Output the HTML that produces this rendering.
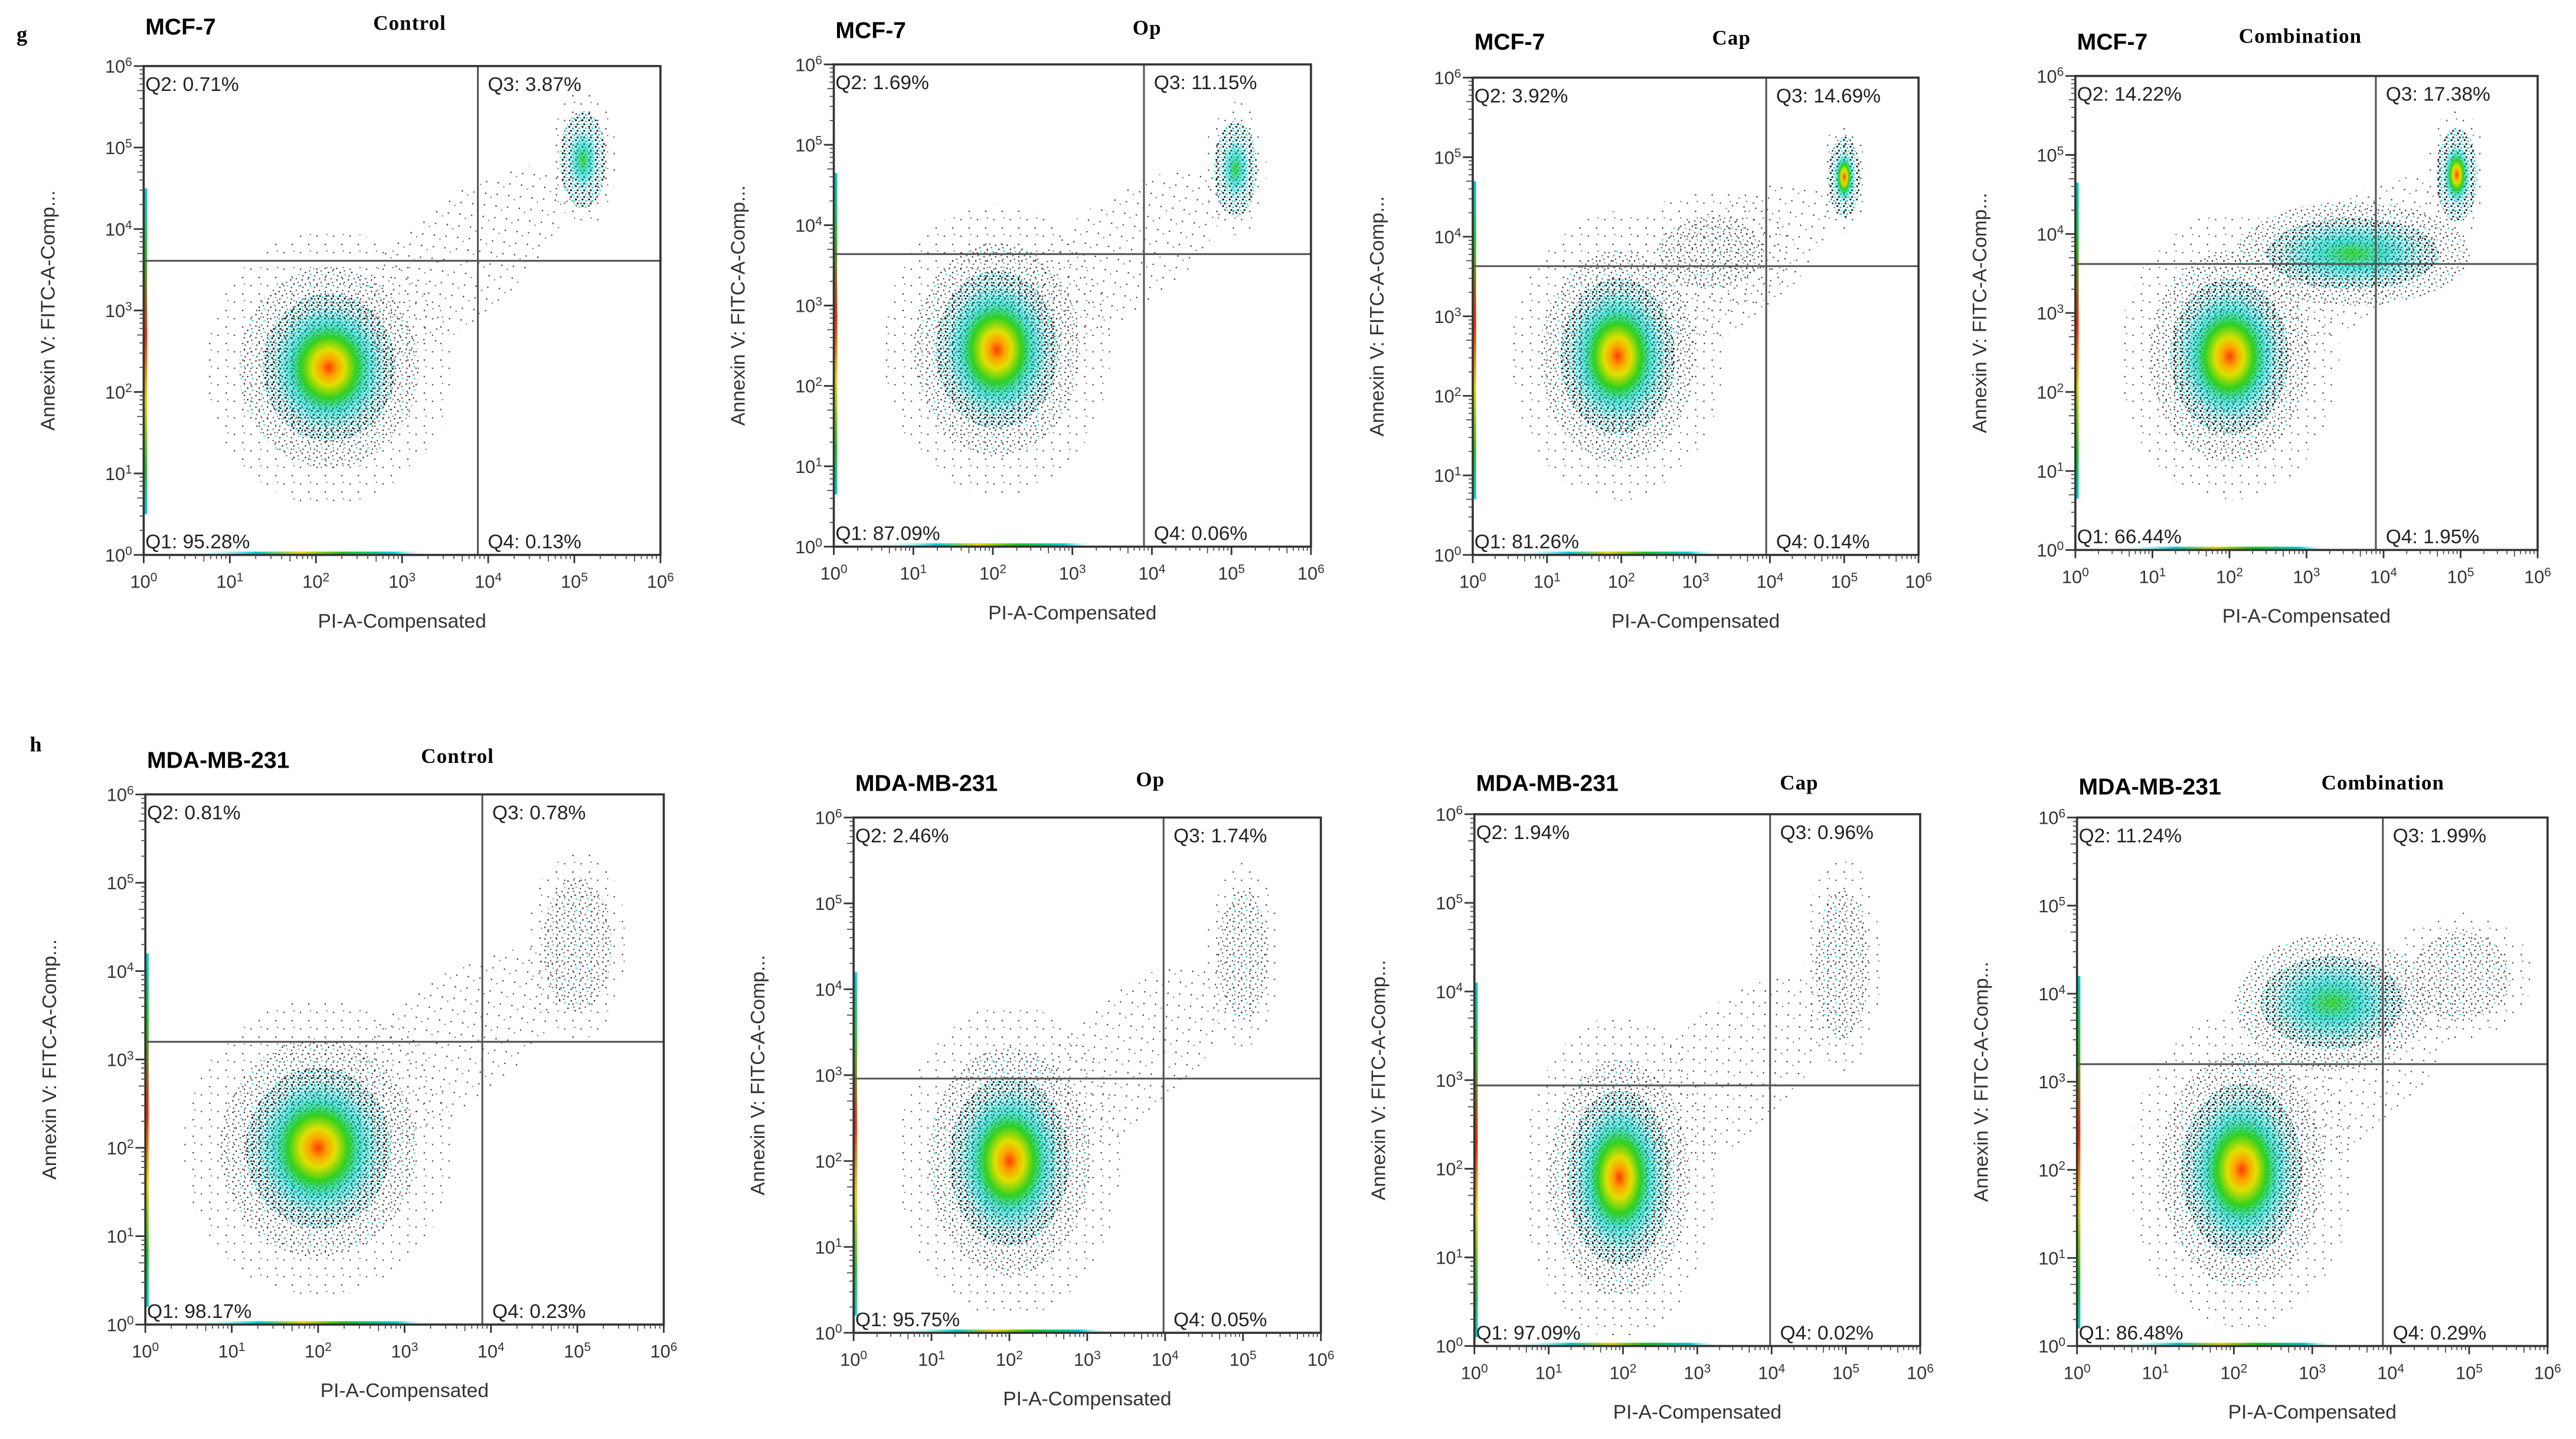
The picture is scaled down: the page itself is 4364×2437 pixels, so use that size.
<!DOCTYPE html>
<html><head><meta charset="utf-8"><style>
html,body{margin:0;padding:0;background:#fff;}
svg{display:block;}
text{font-family:"Liberation Sans",sans-serif;}
.ser{font-family:"Liberation Serif",serif;}
</style></head><body>
<svg id="fig" xmlns="http://www.w3.org/2000/svg" width="4364" height="2437" viewBox="0 0 1560.2 871.3">
<defs>
<pattern id="speck" width="7" height="7" patternUnits="userSpaceOnUse">
<circle cx="1" cy="1.5" r="0.45" fill="#222"/><circle cx="4.5" cy="0.8" r="0.45" fill="#555"/>
<circle cx="3" cy="4" r="0.45" fill="#111"/><circle cx="6" cy="5.2" r="0.45" fill="#0dd"/>
<circle cx="1.5" cy="6" r="0.45" fill="#444"/><circle cx="5.5" cy="3" r="0.4" fill="#333"/>
</pattern>
<pattern id="speckDense" width="4" height="4" patternUnits="userSpaceOnUse">
<circle cx="0.8" cy="0.8" r="0.6" fill="#111"/><circle cx="2.8" cy="1.6" r="0.55" fill="#0cd"/>
<circle cx="1.8" cy="3.2" r="0.6" fill="#222"/><circle cx="3.5" cy="3.5" r="0.45" fill="#0ee"/>
</pattern>
<pattern id="speckSparse" width="10" height="10" patternUnits="userSpaceOnUse">
<circle cx="2" cy="3" r="0.45" fill="#444"/><circle cx="7" cy="8" r="0.45" fill="#333"/><circle cx="8" cy="2" r="0.4" fill="#666"/>
</pattern>
<radialGradient id="heat">
<stop offset="0" stop-color="#ff3a00"/><stop offset="0.14" stop-color="#ffa000"/>
<stop offset="0.28" stop-color="#e0e000"/><stop offset="0.48" stop-color="#30d020"/>
<stop offset="0.7" stop-color="#00d0c0" stop-opacity="0.55"/><stop offset="1" stop-color="#00cccc" stop-opacity="0"/>
</radialGradient>
<radialGradient id="heatLow">
<stop offset="0" stop-color="#30d020" stop-opacity="0.9"/><stop offset="0.45" stop-color="#00d0c0" stop-opacity="0.6"/>
<stop offset="1" stop-color="#00cccc" stop-opacity="0"/>
</radialGradient>
<linearGradient id="edgeV" x1="0" y1="0" x2="0" y2="1">
<stop offset="0" stop-color="#00cccc"/><stop offset="0.2" stop-color="#20c020"/><stop offset="0.45" stop-color="#ff2000"/>
<stop offset="0.65" stop-color="#e0d000"/><stop offset="0.85" stop-color="#20c020"/><stop offset="1" stop-color="#00cccc"/>
</linearGradient>
<linearGradient id="edgeH" x1="0" y1="0" x2="1" y2="0">
<stop offset="0" stop-color="#fff" stop-opacity="0"/><stop offset="0.2" stop-color="#00cccc"/><stop offset="0.33" stop-color="#e0d000"/>
<stop offset="0.45" stop-color="#20c020"/><stop offset="0.6" stop-color="#00cccc"/><stop offset="0.7" stop-color="#fff" stop-opacity="0"/>
</linearGradient>
</defs>
<text x="10" y="25" class="ser" font-size="13" font-weight="bold">g</text>
<text x="18" y="455" class="ser" font-size="13" font-weight="bold">h</text>
</svg>
<script>
// ---- data (log10 units on both axes) ----
const cellLines = ['MCF-7','MCF-7','MCF-7','MCF-7','MDA-MB-231','MDA-MB-231','MDA-MB-231','MDA-MB-231'];
const treatments = ['Control','Op','Cap','Combination','Control','Op','Cap','Combination'];
const q1 = ['95.28%','87.09%','81.26%','66.44%','98.17%','95.75%','97.09%','86.48%'];
const q2 = ['0.71%','1.69%','3.92%','14.22%','0.81%','2.46%','1.94%','11.24%'];
const q3 = ['3.87%','11.15%','14.69%','17.38%','0.78%','1.74%','0.96%','1.99%'];
const q4 = ['0.13%','0.06%','0.14%','1.95%','0.23%','0.05%','0.02%','0.29%'];
const gateX = [3.88, 3.9, 3.95, 3.9, 3.9, 3.98, 3.98, 3.9];
const gateY = [3.61, 3.64, 3.63, 3.62, 3.2, 2.96, 2.94, 3.2];
const mainX = [2.15, 2.05, 1.95, 2.0, 2.0, 2.0, 1.95, 2.1];
const mainY = [2.3, 2.45, 2.5, 2.45, 2.0, 2.0, 1.9, 2.0];
const mainSx = [0.55, 0.55, 0.55, 0.55, 0.6, 0.55, 0.5, 0.55];
const mainSy = [0.65, 0.7, 0.7, 0.7, 0.65, 0.7, 0.7, 0.7];
const deadX = [5.1, 5.05, 5.0, 4.95, 5.0, 5.0, 4.95, 4.9];
const deadY = [4.85, 4.7, 4.75, 4.75, 4.3, 4.4, 4.3, 4.2];
const deadSx = [0.15, 0.15, 0.12, 0.15, 0.22, 0.18, 0.2, 0.35];
const deadSy = [0.35, 0.35, 0.3, 0.35, 0.45, 0.45, 0.5, 0.3];
const deadHot = [1, 1, 1, 1, 0, 0, 0, 0];
const bandX = [0, 0, 3.2, 3.6, 0, 0, 0, 3.25];
const bandY = [0, 0, 3.8, 3.75, 0, 0, 0, 3.9];
const bandSx = [0, 0, 0.6, 0.8, 0, 0, 0, 0.65];
const bandSy = [0, 0, 0.35, 0.3, 0, 0, 0, 0.35];
const bandHot = [0, 0, 0, 1, 0, 0, 0, 1];
const xTickPowers = [0,1,2,3,4,5,6];
const yTickPowers = [0,1,2,3,4,5,6];

// ---- layout (displayed units) ----
const boxes = [
 [87,40,313,296,12,18,226,17],[505,39,289,292,507,20,686,20],[892,47,270,289,894,27,1037,26],[1257,46,280,287,1259,27,1356,25],
 [88,481,314,321,90,462,255,461],[517,495,283,312,518,476,688,475],[893,493,270,322,895,476,1078,477],[1258,495,285,320,1262,478,1406,477]
];
const NS='http://www.w3.org/2000/svg';
const svg=document.getElementById('fig');
function mk(tag,attrs,parent){const e=document.createElementNS(NS,tag);for(const k in attrs)e.setAttribute(k,attrs[k]);(parent||svg).appendChild(e);return e;}

for(let i=0;i<8;i++){
 const [bx,by,bw,bh,tx,ty,ttx,tty]=boxes[i];
 const g=mk('g',{});
 
 
 const X=v=>bx+v/6*bw, Y=v=>by+bh-v/6*bh;
 const pxX=bw/6, pxY=bh/6;
 const t1=mk('text',{x:bx+1,y:ty+3,'font-size':14,'font-weight':'bold'},g);
 t1.textContent=cellLines[i];
 
 
 const t2=mk('text',{x:ttx,y:tty+1,'font-size':12.5,class:'ser','font-weight':'bold','letter-spacing':'0.4'},g);
 t2.textContent=treatments[i];
 
 
 const cid='clip'+i;
 const cp=mk('clipPath',{id:cid},g); mk('rect',{x:bx,y:by,width:bw,height:bh},cp);
 const pg=mk('g',{'clip-path':'url(#'+cid+')'},g);
 const mx=X((mainX[i]+deadX[i])/2), my=Y((mainY[i]+deadY[i])/2);
 mk('ellipse',{cx:mx,cy:my,rx:pxX*1.6,ry:pxY*0.7,fill:'url(#speckSparse)',transform:`rotate(${-Math.atan2((deadY[i]-mainY[i])*pxY,(deadX[i]-mainX[i])*pxX)*180/Math.PI} ${mx} ${my})`},pg);
 const mp=mk('g',{},pg);
 
 
 mk('ellipse',{cx:X(mainX[i]),cy:Y(mainY[i]),rx:mainSx[i]*2.6*pxX,ry:mainSy[i]*2.6*pxY,fill:'url(#speckSparse)'},mp);
 mk('ellipse',{cx:X(mainX[i]),cy:Y(mainY[i]),rx:mainSx[i]*1.9*pxX,ry:mainSy[i]*1.9*pxY,fill:'url(#speck)'},mp);
 mk('ellipse',{cx:X(mainX[i]),cy:Y(mainY[i]),rx:mainSx[i]*1.4*pxX,ry:mainSy[i]*1.4*pxY,fill:'url(#speckDense)'},mp);
 mk('ellipse',{cx:X(mainX[i]),cy:Y(mainY[i]),rx:mainSx[i]*1.2*pxX,ry:mainSy[i]*1.2*pxY,fill:'url(#heat)'},mp);
 if(bandSx[i]>0){
  const bp=mk('g',{},pg);
  
  
  mk('ellipse',{cx:X(bandX[i]),cy:Y(bandY[i]),rx:bandSx[i]*1.9*pxX,ry:bandSy[i]*2.2*pxY,fill:bandHot[i]?'url(#speck)':'url(#speckSparse)'},bp);
  if(bandHot[i]){
   mk('ellipse',{cx:X(bandX[i]),cy:Y(bandY[i]),rx:bandSx[i]*1.4*pxX,ry:bandSy[i]*1.5*pxY,fill:'url(#speckDense)'},bp);
   mk('ellipse',{cx:X(bandX[i]),cy:Y(bandY[i]),rx:bandSx[i]*1.2*pxX,ry:bandSy[i]*1.3*pxY,fill:'url(#heatLow)'},bp);
  } else {
   mk('ellipse',{cx:X(bandX[i]),cy:Y(bandY[i]),rx:bandSx[i]*1.2*pxX,ry:bandSy[i]*1.3*pxY,fill:'url(#speck)'},bp);
  }
 }
 const dp=mk('g',{},pg);
 
 
 mk('ellipse',{cx:X(deadX[i]),cy:Y(deadY[i]),rx:deadSx[i]*2.6*pxX,ry:deadSy[i]*2.4*pxY,fill:'url(#speckSparse)'},dp);
 mk('ellipse',{cx:X(deadX[i]),cy:Y(deadY[i]),rx:deadSx[i]*1.8*pxX,ry:deadSy[i]*1.7*pxY,fill:deadHot[i]?'url(#speckDense)':'url(#speck)'},dp);
 if(deadHot[i]) mk('ellipse',{cx:X(deadX[i]),cy:Y(deadY[i]),rx:deadSx[i]*1.2*pxX,ry:deadSy[i]*1.1*pxY,fill:i>=2?'url(#heat)':'url(#heatLow)'},dp);
 mk('rect',{x:bx,y:Y(mainY[i]+2.2),width:2,height:pxY*4,fill:'url(#edgeV)'},pg);
 mk('rect',{x:X(0.5),y:by+bh-2,width:pxX*4,height:2,fill:'url(#edgeH)'},pg);
 const gl=mk('line',{x1:X(gateX[i]),y1:by,x2:X(gateX[i]),y2:by+bh,stroke:'#555','stroke-width':1.1},g);
 
 
 const gh=mk('line',{x1:bx,y1:Y(gateY[i]),x2:bx+bw,y2:Y(gateY[i]),stroke:'#555','stroke-width':1.1},g);
 
 
 const fr=mk('rect',{x:bx,y:by,width:bw,height:bh,fill:'none',stroke:'#333','stroke-width':1.3},g);
 
 
 const ql=[['Q2: '+q2[i],bx+1,by+15],['Q3: '+q3[i],X(gateX[i])+6,by+15],['Q1: '+q1[i],bx+1,by+bh-4],['Q4: '+q4[i],X(gateX[i])+6,by+bh-4]];
 for(const [s,x,y] of ql){const t=mk('text',{x:x,y:y,'font-size':12,fill:'#222'},g);t.textContent=s;
  
  }
 for(let d=0;d<6;d++){for(let m=2;m<10;m++){const lv=d+Math.log10(m);
  mk('line',{x1:X(lv),y1:by+bh,x2:X(lv),y2:by+bh+(m==5?4:2.5),stroke:'#444','stroke-width':0.6},g);
  mk('line',{x1:bx,y1:Y(lv),x2:bx-(m==5?4:2.5),y2:Y(lv),stroke:'#444','stroke-width':0.6},g);}}
 for(const p of xTickPowers){
  mk('line',{x1:X(p),y1:by+bh,x2:X(p),y2:by+bh+5,stroke:'#333','stroke-width':1},g);
  const t=mk('text',{x:X(p),y:by+bh+20,'font-size':11,'text-anchor':'middle',fill:'#333'},g);
  
  
  t.appendChild(document.createTextNode('10'));const s=mk('tspan',{dy:-4,'font-size':7.5},t);s.textContent=p;}
 for(const p of yTickPowers){
  mk('line',{x1:bx,y1:Y(p),x2:bx-6,y2:Y(p),stroke:'#333','stroke-width':1},g);
  const t=mk('text',{x:bx-7,y:Y(p)+4,'font-size':11,'text-anchor':'end',fill:'#333'},g);
  
  
  t.appendChild(document.createTextNode('10'));const s=mk('tspan',{dy:-4,'font-size':7.5},t);s.textContent=p;}
 const xl=mk('text',{x:bx+bw/2,y:by+bh+44,'font-size':12,'text-anchor':'middle',fill:'#333'},g);
 xl.textContent='PI-A-Compensated';
 
 
 const yx=bx-54, yy=by+bh/2;
 const yl=mk('text',{x:yx,y:yy,'font-size':12,'text-anchor':'middle',fill:'#333',transform:`rotate(-90 ${yx} ${yy})`},g);
 yl.textContent='Annexin V: FITC-A-Comp...';
 
 
}
</script>
</body></html>
